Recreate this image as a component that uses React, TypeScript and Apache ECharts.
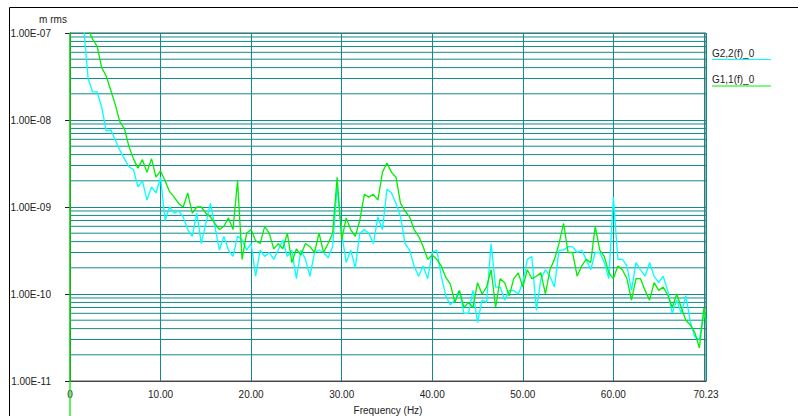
import React, { useEffect, useRef } from "react";
import * as echarts from "echarts";

// Frequency (Hz) sample positions
const FREQ = [
  0.5, 1, 1.5, 2, 2.5, 3, 3.5, 4, 4.5, 5,
  5.5, 6, 6.5, 7, 7.5, 8, 8.5, 9, 9.5, 10,
  10.5, 11, 11.5, 12, 12.5, 13, 13.5, 14, 14.5, 15,
  15.5, 16, 16.5, 17, 17.5, 18, 18.5, 19, 19.5, 20,
  20.5, 21, 21.5, 22, 22.5, 23, 23.5, 24, 24.5, 25,
  25.5, 26, 26.5, 27, 27.5, 28, 28.5, 29, 29.5, 30,
  30.5, 31, 31.5, 32, 32.5, 33, 33.5, 34, 34.5, 35,
  35.5, 36, 36.5, 37, 37.5, 38, 38.5, 39, 39.5, 40,
  40.5, 41, 41.5, 42, 42.5, 43, 43.5, 44, 44.5, 45,
  45.5, 46, 46.5, 47, 47.5, 48, 48.5, 49, 49.5, 50,
  50.5, 51, 51.5, 52, 52.5, 53, 53.5, 54, 54.5, 55,
  55.5, 56, 56.5, 57, 57.5, 58, 58.5, 59, 59.5, 60,
  60.5, 61, 61.5, 62, 62.5, 63, 63.5, 64, 64.5, 65,
  65.5, 66, 66.5, 67, 67.5, 68, 68.5, 69, 69.5, 70,
  70.23,
];

// G1,1(f)_0  (green)
const G11 = [
  1.5e-7, 1.5e-7, 1.3e-7, 1.1e-7, 8.5e-8, 7.0e-8, 4.0e-8, 3.2e-8, 2.2e-8, 1.5e-8,
  9.5e-9, 8.0e-9, 5.0e-9, 3.6e-9, 2.8e-9, 3.5e-9, 2.5e-9, 3.6e-9, 2.2e-9, 2.6e-9,
  2.0e-9, 1.5e-9, 1.3e-9, 1.1e-9, 1.0e-9, 1.45e-9, 8.5e-10, 1.0e-9, 1.0e-9, 8.5e-10,
  7.7e-10, 6.5e-10, 5.5e-10, 6.0e-10, 7.5e-10, 5.5e-10, 2.0e-9, 2.5e-10, 5.0e-10, 5.5e-10,
  4.1e-10, 3.8e-10, 6.0e-10, 5.0e-10, 3.3e-10, 3.8e-10, 3.3e-10, 5.0e-10, 2.3e-10, 3.3e-10,
  2.8e-10, 3.8e-10, 3.5e-10, 3.0e-10, 5.0e-10, 3.0e-10, 3.8e-10, 5.0e-10, 2.2e-9, 4.2e-10,
  7.5e-10, 5.5e-10, 4.6e-10, 7.0e-10, 1.4e-9, 1.3e-9, 1.4e-9, 1.2e-9, 2.5e-9, 3.2e-9,
  2.5e-9, 2.2e-9, 1.1e-9, 9.0e-10, 7.7e-10, 5.5e-10, 4.6e-10, 3.5e-10, 2.5e-10, 2.8e-10,
  2.5e-10, 2.1e-10, 1.55e-10, 1.3e-10, 8.0e-11, 1.1e-10, 7.0e-11, 8.0e-11, 7.0e-11, 1.35e-10,
  1.0e-10, 1.2e-10, 1.9e-10, 7.0e-11, 1.5e-10, 1.35e-10, 9.5e-11, 1.5e-10, 1.75e-10, 1.2e-10,
  1.9e-10, 1.5e-10, 1.6e-10, 1.75e-10, 1.0e-10, 1.9e-10, 2.5e-10, 3.8e-10, 6.5e-10, 3.0e-10,
  3.0e-10, 1.6e-10, 2.1e-10, 2.5e-10, 2.3e-10, 6.0e-10, 3.2e-10, 2.7e-10, 1.75e-10, 1.5e-10,
  2.1e-10, 1.9e-10, 1.5e-10, 8.5e-11, 1.5e-10, 1.5e-10, 1.1e-10, 8.5e-11, 1.35e-10, 1.1e-10,
  1.2e-10, 9.8e-11, 7.0e-11, 1.0e-10, 7.0e-11, 5.0e-11, 4.4e-11, 3.6e-11, 2.4e-11, 7.0e-11,
  4.7e-11,
];

// G2,2(f)_0  (cyan)
const G22 = [
  1.5e-7, 1.5e-7, 1.2e-7, 3.0e-8, 2.1e-8, 2.1e-8, 1.4e-8, 7.5e-9, 7.7e-9, 5.9e-9,
  4.5e-9, 3.6e-9, 2.9e-9, 2.7e-9, 1.7e-9, 2.0e-9, 1.2e-9, 1.7e-9, 1.45e-9, 2.2e-9,
  7.0e-10, 1.0e-9, 8.5e-10, 9.0e-10, 7.7e-10, 5.5e-10, 4.6e-10, 8.5e-10, 3.8e-10, 6.5e-10,
  1.1e-9, 6.0e-10, 3.2e-10, 4.6e-10, 3.2e-10, 2.7e-10, 4.6e-10, 4.2e-10, 3.2e-10, 3.8e-10,
  1.6e-10, 3.2e-10, 2.7e-10, 3.0e-10, 2.5e-10, 3.2e-10, 4.2e-10, 2.7e-10, 3.2e-10, 1.5e-10,
  3.2e-10, 2.5e-10, 1.6e-10, 3.0e-10, 3.2e-10, 3.0e-10, 2.6e-10, 3.5e-10, 1.7e-9, 5.0e-10,
  2.3e-10, 3.2e-10, 2.0e-10, 5.0e-10, 5.5e-10, 5.0e-10, 3.8e-10, 7.7e-10, 5.5e-10, 1.6e-9,
  1.45e-9, 1.1e-9, 7.7e-10, 3.8e-10, 3.2e-10, 2.1e-10, 1.6e-10, 2.1e-10, 1.5e-10, 3.0e-10,
  3.2e-10, 1.6e-10, 9.5e-11, 7.5e-11, 8.5e-11, 1.1e-10, 6.0e-11, 6.0e-11, 1.1e-10, 4.7e-11,
  8.5e-11, 8.0e-11, 3.8e-10, 1.2e-10, 1.2e-10, 8.5e-11, 1.1e-10, 1.1e-10, 1.0e-10, 1.35e-10,
  2.5e-10, 2.7e-10, 6.5e-11, 1.5e-10, 1.9e-10, 1.6e-10, 1.2e-10, 3.2e-10, 3.2e-10, 3.5e-10,
  3.5e-10, 3.0e-10, 3.2e-10, 2.5e-10, 1.9e-10, 3.0e-10, 3.0e-10, 2.3e-10, 1.5e-10, 1.3e-9,
  2.5e-10, 2.5e-10, 2.1e-10, 1.1e-10, 2.3e-10, 1.9e-10, 1.6e-10, 2.3e-10, 1.6e-10, 1.35e-10,
  1.6e-10, 1.1e-10, 6.0e-11, 8.5e-11, 6.0e-11, 9.5e-11, 4.8e-11, 3.2e-11, 3.0e-11, 6.0e-11,
  5.0e-11,
];

const SERIES_NAMES = ["G2,2(f)_0", "G1,1(f)_0"];
const DECADES = [-11, -10, -9, -8];
const MANTISSAS = [2, 3, 4, 5, 6, 7, 8, 9];
const X_MAX = 70.23;
const Y_MIN = 1e-11;
const Y_MAX = 1e-7;

const FONT = '"Liberation Sans", Arial, Helvetica, sans-serif';
const GREEN = "#00ee00";
const CYAN = "#00ffff";
const TEAL = "#128a8a";

export default function App() {
  const ref = useRef<HTMLDivElement>(null);

  useEffect(() => {
    if (!ref.current) return;
    const chart = echarts.init(ref.current, undefined, { renderer: "svg" });

    // minor horizontal grid lines (2..9 x each decade), drawn through the axes
    const minorSeries: any[] = [];
    DECADES.forEach((d) =>
      MANTISSAS.forEach((m) => {
        const v = m * Math.pow(10, d);
        minorSeries.push({
          type: "line",
          data: [
            [0, v],
            [X_MAX, v],
          ],
          silent: true,
          showSymbol: false,
          symbol: "none",
          z: 1,
          lineStyle: { color: TEAL, width: 1 },
          emphasis: { disabled: true },
          tooltip: { show: false },
        });
      })
    );

    const fmtY = (v: number) => {
      const e = Math.round(Math.log10(v));
      const sign = e < 0 ? "-" : "+";
      return "1.00E" + sign + String(Math.abs(e)).padStart(2, "0");
    };
    const fmtX = (v: number) => {
      if (v === 0) return "0";
      if (Math.abs(v - 70) < 1e-9) return "";
      return v.toFixed(2);
    };

    chart.setOption({
      animation: false,
      backgroundColor: "#ffffff",
      textStyle: { fontFamily: FONT },
      grid: {
        left: 70,
        right: 92,
        top: 33,
        bottom: 35,
        show: true,
        borderColor: "#555",
        borderWidth: 1,
        containLabel: false,
        outerBoundsMode: "none",
      },
      xAxis: {
        type: "value",
        min: 0,
        max: X_MAX,
        interval: 10,
        name: "Frequency (Hz)",
        nameLocation: "middle",
        nameGap: 24,
        nameTextStyle: { color: "#222", fontSize: 10, fontFamily: FONT },
        axisLine: { show: true, lineStyle: { color: "#444", width: 1 } },
        axisTick: { show: false },
        axisLabel: {
          color: "#222",
          fontSize: 10,
          fontFamily: FONT,
          margin: 8,
          formatter: fmtX,
          showMinLabel: true,
          showMaxLabel: true,
        },
        splitLine: { show: true, lineStyle: { color: TEAL, width: 1 } },
      },
      yAxis: {
        type: "log",
        logBase: 10,
        min: Y_MIN,
        max: Y_MAX,
        axisLine: { show: true, lineStyle: { color: "#444", width: 1 } },
        axisTick: { show: true, length: 5, lineStyle: { color: "#222" } },
        axisLabel: {
          color: "#222",
          fontSize: 10,
          fontFamily: FONT,
          margin: 19,
          formatter: fmtY,
        },
        splitLine: { show: true, lineStyle: { color: TEAL, width: 1 } },
      },
      series: [
        ...minorSeries,
        {
          type: "line",
          name: SERIES_NAMES[0],
          data: FREQ.map((f, i) => [f, G22[i]]),
          showSymbol: false,
          symbol: "none",
          clip: true,
          z: 3,
          lineStyle: { color: CYAN, width: 1.3 },
          itemStyle: { color: CYAN },
          emphasis: { disabled: true },
        },
        {
          type: "line",
          name: SERIES_NAMES[1],
          data: FREQ.map((f, i) => [f, G11[i]]),
          showSymbol: false,
          symbol: "none",
          clip: true,
          z: 4,
          lineStyle: { color: GREEN, width: 1.3 },
          itemStyle: { color: GREEN },
          emphasis: { disabled: true },
        },
      ],
    });

    const x0 = chart.convertToPixel({ xAxisIndex: 0 }, 0) as number;
    const yTop = chart.convertToPixel({ yAxisIndex: 0 }, Y_MAX) as number;

    chart.setOption({
      graphic: [
        {
          type: "polyline",
          silent: true,
          shape: { points: [[9.5, 416], [9.5, 7.5], [798, 7.5]] },
          style: { stroke: "#000", lineWidth: 1, fill: null },
          z: 10,
        },
        {
          type: "line",
          silent: true,
          shape: { x1: x0, y1: yTop, x2: x0, y2: 416 },
          style: { stroke: GREEN, lineWidth: 1.3 },
          z: 20,
        },
        {
          type: "text",
          silent: true,
          x: 53,
          y: 19,
          style: {
            text: "m rms",
            font: `10px ${FONT}`,
            fill: "#222",
            align: "center",
            verticalAlign: "middle",
          },
        },
        {
          type: "text",
          silent: true,
          x: 712,
          y: 53,
          style: {
            text: SERIES_NAMES[0],
            font: `10px ${FONT}`,
            fill: "#222",
            align: "left",
            verticalAlign: "middle",
          },
        },
        {
          type: "line",
          silent: true,
          shape: { x1: 712, y1: 59.5, x2: 771, y2: 59.5 },
          style: { stroke: CYAN, lineWidth: 1 },
        },
        {
          type: "text",
          silent: true,
          x: 712,
          y: 79.5,
          style: {
            text: SERIES_NAMES[1],
            font: `10px ${FONT}`,
            fill: "#222",
            align: "left",
            verticalAlign: "middle",
          },
        },
        {
          type: "line",
          silent: true,
          shape: { x1: 712, y1: 86, x2: 771, y2: 86 },
          style: { stroke: GREEN, lineWidth: 1 },
        },
      ],
    });

    return () => chart.dispose();
  }, []);

  return (
    <div
      ref={ref}
      style={{
        position: "fixed",
        left: 0,
        top: 0,
        width: 798,
        height: 416,
        background: "#fff",
      }}
    />
  );
}
